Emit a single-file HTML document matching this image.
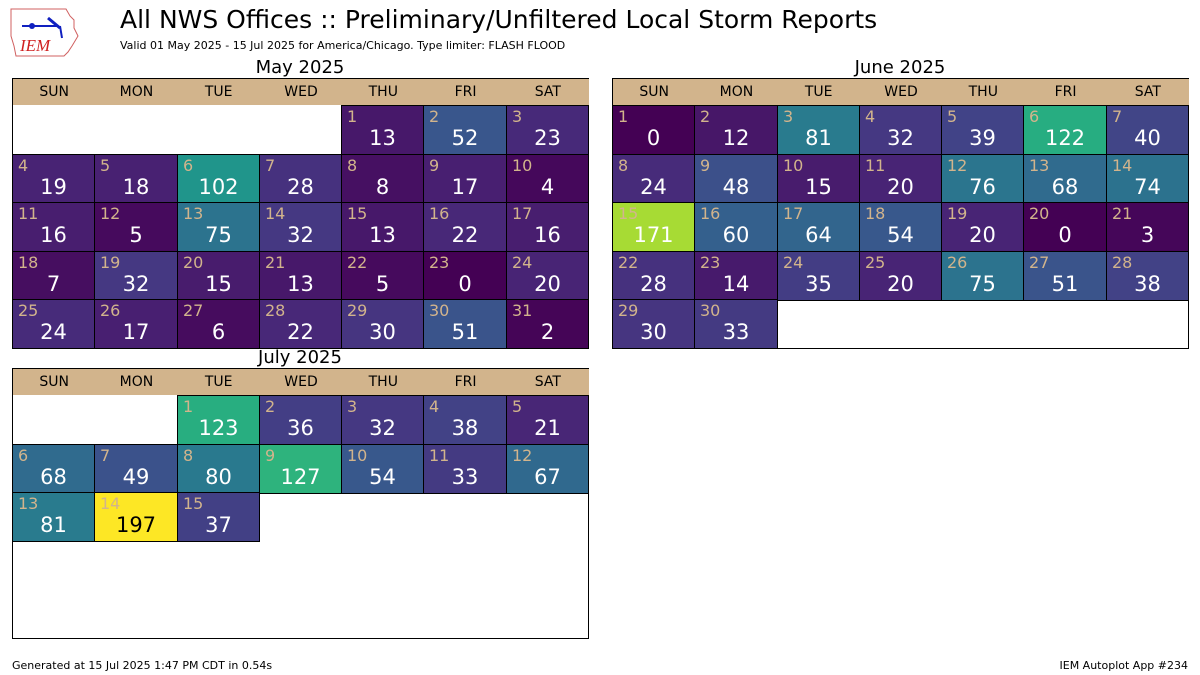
<!DOCTYPE html>
<html><head><meta charset="utf-8">
<style>
body{margin:0;width:1200px;height:675px;background:#fff;font-family:"DejaVu Sans","Liberation Sans",sans-serif;position:relative;overflow:hidden}
.t{position:absolute;white-space:nowrap}
.box{position:absolute;border:1px solid #000;box-sizing:border-box;background:#fff}
.hdr{position:absolute;background:#d2b48c;font-size:14px;text-align:center;line-height:27px}
.c{position:absolute;box-sizing:border-box;border:1px solid #000}
.d{position:absolute;left:5px;top:1px;font-size:16px;color:#d2b48c}
.v{position:absolute;left:0;right:0;top:20px;text-align:center;font-size:21px;color:#fff}
</style></head><body>
<svg class="t" style="left:8px;top:6px" width="72" height="54" viewBox="0 0 72 54">
<path d="M3 3 L58 3 L62 10 L66 14 L66 22 L70 30 L64 40 L60 46 L56 50 L8 50 L6 40 L3 30 Z" fill="none" stroke="#d06060" stroke-width="1"/>
<line x1="14" y1="20" x2="50" y2="20" stroke="#1020c0" stroke-width="2"/>
<line x1="40" y1="12" x2="52" y2="22" stroke="#1020c0" stroke-width="3"/>
<line x1="52" y1="20" x2="54" y2="32" stroke="#1020c0" stroke-width="2"/>
<circle cx="24" cy="20" r="3" fill="#1020c0"/>
<text x="12" y="45" font-family="Liberation Serif" font-style="italic" font-size="17" fill="#d02020">IEM</text>
</svg>
<div class="t" style="left:120px;top:5px;font-size:25px">All NWS Offices :: Preliminary/Unfiltered Local Storm Reports</div>
<div class="t" style="left:120px;top:39px;font-size:11px">Valid 01 May 2025 - 15 Jul 2025 for America/Chicago. Type limiter: FLASH FLOOD</div>
<div class="t" style="left:12px;top:659px;font-size:11px">Generated at 15 Jul 2025 1:47 PM CDT in 0.54s</div>
<div class="t" style="right:12px;top:659px;font-size:11px">IEM Autoplot App #234</div>
<div id="root"></div>
<script>
var V=[[68,1,84],[71,19,101],[72,36,117],[70,52,128],[65,68,135],[59,82,139],[53,95,141],[47,108,142],[42,120,142],[37,132,142],[33,145,140],[30,156,137],[34,168,132],[47,180,124],[68,191,112],[94,201,98],[122,209,81],[155,217,60],[189,223,38],[223,227,24],[253,231,37]];
function col(v){var t=Math.min(1,v/197)*20,i=Math.floor(t);if(i>=20)return 'rgb('+V[20]+')';var f=t-i,a=V[i],b=V[i+1];return 'rgb('+[0,1,2].map(k=>Math.round(a[k]+(b[k]-a[k])*f)).join(',')+')';}
var days=['SUN','MON','TUE','WED','THU','FRI','SAT'];
function cal(x,y,title,start,vals){
 var h='<div class="t" style="left:'+x+'px;width:576px;text-align:center;top:'+(y-21)+'px;font-size:18px">'+title+'</div>';
 h+='<div class="box" style="left:'+x+'px;top:'+y+'px;width:577px;height:271px"></div>';
 var cw=576/7;
 for(var i=0;i<7;i++)h+='<div class="hdr" style="left:'+(x+1+i*cw)+'px;top:'+(y+1)+'px;width:'+cw+'px;height:26px">'+days[i]+'</div>';
 for(var d=0;d<vals.length;d++){var p=start+d,r=Math.floor(p/7),c=p%7;
  var cx=x+Math.round(c*cw),cy=y+27+Math.round(r*48.6);
  var v=vals[d];
  h+='<div class="c" style="left:'+cx+'px;top:'+cy+'px;width:'+(Math.round((c+1)*cw)-Math.round(c*cw)+1)+'px;height:49.6px;background:'+col(v)+'"><div class="d">'+(d+1)+'</div><div class="v" style="color:'+(v>180?'#000':'#fff')+'">'+v+'</div></div>';}
 return h;}
var may=[13,52,23,19,18,102,28,8,17,4,16,5,75,32,13,22,16,7,32,15,13,5,0,20,24,17,6,22,30,51,2];
var jun=[0,12,81,32,39,122,40,24,48,15,20,76,68,74,171,60,64,54,20,0,3,28,14,35,20,75,51,38,30,33];
var jul=[123,36,32,38,21,68,49,80,127,54,33,67,81,197,37];
document.getElementById('root').innerHTML=cal(12,78,'May 2025',4,may)+cal(612,78,'June 2025',0,jun)+cal(12,368,'July 2025',2,jul);
</script>
</body></html>
